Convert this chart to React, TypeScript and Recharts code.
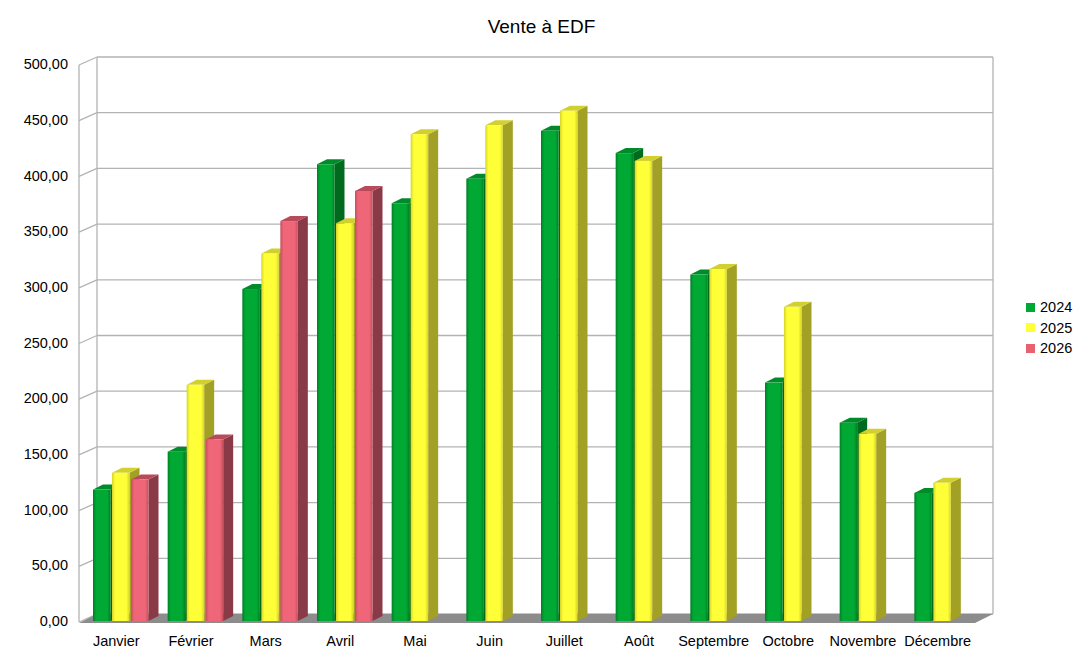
import React from 'react';
import { Bar, BarChart, CartesianGrid, XAxis, YAxis } from 'recharts';

const months = [
  'Janvier', 'Février', 'Mars', 'Avril', 'Mai', 'Juin',
  'Juillet', 'Août', 'Septembre', 'Octobre', 'Novembre', 'Décembre',
];
const sales2024 = [118, 152, 298, 410, 375, 397, 440, 420, 311, 214, 178, 115];
const sales2025 = [133, 212, 330, 357, 437, 445, 458, 413, 316, 282, 168, 124];
const sales2026 = [127, 163, 359, 386, null, null, null, null, null, null, null, null];
const yTicks = [0, 50, 100, 150, 200, 250, 300, 350, 400, 450, 500];
const seriesNames = ['2024', '2025', '2026'];

const data = months.map((month, i) => ({
  month,
  y2024: sales2024[i],
  y2025: sales2025[i],
  y2026: sales2026[i],
}));

const FONT = '"Liberation Sans", Arial, sans-serif';
const PLOT_LEFT = 79;
const PLOT_RIGHT = 975;
// depth of the 3D walls
const WALL_DX = 18;
const WALL_DY = 7;
// depth of each bar
const BAR_DX = 10;
const BAR_DY = 5;
const BAR_SHIFT = 5;

const palette = [
  { id: 'g24', front: '#00a933', edge: '#007f24', side: '#006a1e', top: '#008b2a', legend: '#00a933' },
  { id: 'g25', front: '#ffff38', edge: '#d6d42a', side: '#a3a026', top: '#d2d02e', legend: '#ffff38' },
  { id: 'g26', front: '#ee6677', edge: '#c4505f', side: '#8a3a47', top: '#b94a59', legend: '#e8616f' },
];

function makeBarShape(idx: number) {
  const c = palette[idx];
  return (props: any) => {
    const { x, y, width, height } = props;
    if (height == null || height <= 0) return null;
    const fx = x + BAR_SHIFT;
    const w = width - 1.5;
    const base = y + height;
    return (
      <g>
        <polygon
          points={`${fx + w},${y} ${fx + w + BAR_DX},${y - BAR_DY} ${fx + w + BAR_DX},${base - BAR_DY} ${fx + w},${base}`}
          fill={c.side}
        />
        <polygon
          points={`${fx},${y} ${fx + BAR_DX},${y - BAR_DY} ${fx + w + BAR_DX},${y - BAR_DY} ${fx + w},${y}`}
          fill={c.top}
        />
        <rect x={fx} y={y} width={w} height={height} fill={`url(#${c.id})`} />
      </g>
    );
  };
}

const gridLine = (props: any) => {
  const { x1, y1, x2 } = props;
  return (
    <g key={`h-${y1}`}>
      <line x1={x1} y1={y1 + 1} x2={x1 + WALL_DX} y2={y1 - WALL_DY} stroke="#b3b3b3" strokeWidth={1.3} />
      <line x1={x1 + WALL_DX} y1={y1 - WALL_DY} x2={x2 + WALL_DX} y2={y1 - WALL_DY} stroke="#b3b3b3" strokeWidth={1.3} />
    </g>
  );
};

const wallEdges = (props: any) => {
  const { x1, y1, y2 } = props;
  return (
    <g key="walls">
      <line x1={x1} y1={y1 + 1} x2={x1} y2={y2 + 1} stroke="#b3b3b3" strokeWidth={1.3} />
      <line x1={x1 + WALL_DX} y1={y1 - WALL_DY} x2={x1 + WALL_DX} y2={y2 - WALL_DY} stroke="#b3b3b3" strokeWidth={1.3} />
      <line x1={PLOT_RIGHT + WALL_DX} y1={y1 - WALL_DY} x2={PLOT_RIGHT + WALL_DX} y2={y2 - WALL_DY} stroke="#b3b3b3" strokeWidth={1.3} />
      <polygon
        points={`${x1},${y2 + 2} ${PLOT_RIGHT},${y2 + 2} ${PLOT_RIGHT + WALL_DX},${y2 - WALL_DY} ${x1 + WALL_DX},${y2 - WALL_DY}`}
        fill="#8c8c8c"
      />
    </g>
  );
};

const fmt = (v: number) => v.toFixed(2).replace('.', ',');

export default function App() {
  return (
    <div style={{ position: 'absolute', left: 0, top: 0, width: 1085, height: 661, background: '#fff', fontFamily: FONT }}>
      <svg width={0} height={0} style={{ position: 'absolute' }}>
        <defs>
          {palette.map((c) => (
            <linearGradient key={c.id} id={c.id} x1="0" y1="0" x2="1" y2="0">
              <stop offset="0%" stopColor={c.edge} />
              <stop offset="18%" stopColor={c.front} />
              <stop offset="82%" stopColor={c.front} />
              <stop offset="100%" stopColor={c.edge} />
            </linearGradient>
          ))}
        </defs>
      </svg>
      <div style={{ position: 'absolute', left: 0, top: 16, width: 1083, textAlign: 'center', fontSize: 19, color: '#000' }}>
        Vente à EDF
      </div>
      <BarChart
        width={1085}
        height={661}
        data={data}
        margin={{ top: 64, right: 110, bottom: 0, left: 0 }}
        barGap={0}
        barSize={19}
      >
        <CartesianGrid
          horizontal={gridLine}
          vertical={wallEdges}
          verticalPoints={[PLOT_LEFT]}
        />
        <XAxis
          dataKey="month"
          height={40}
          axisLine={false}
          tickLine={false}
          tickSize={0}
          tickMargin={15}
          interval={0}
          tick={{ fill: '#000', fontSize: 14.5, fontFamily: FONT }}
        />
        <YAxis
          width={79}
          domain={[0, 500]}
          ticks={yTicks}
          axisLine={false}
          tickLine={false}
          tickSize={0}
          tickMargin={11}
          tickFormatter={fmt}
          tick={{ fill: '#000', fontSize: 14.5, fontFamily: FONT }}
        />
        <Bar dataKey="y2024" name="2024" fill={palette[0].front} shape={makeBarShape(0)} isAnimationActive={false} />
        <Bar dataKey="y2025" name="2025" fill={palette[1].front} shape={makeBarShape(1)} isAnimationActive={false} />
        <Bar dataKey="y2026" name="2026" fill={palette[2].front} shape={makeBarShape(2)} isAnimationActive={false} />
      </BarChart>
      <div style={{ position: 'absolute', left: 1026, top: 297, fontSize: 14.5, color: '#000' }}>
        {seriesNames.map((name, i) => (
          <div key={name} style={{ display: 'flex', alignItems: 'center', height: 20.5 }}>
            <span style={{ display: 'inline-block', width: 9, height: 9, background: palette[i].legend, marginRight: 5 }} />
            <span>{name}</span>
          </div>
        ))}
      </div>
    </div>
  );
}
